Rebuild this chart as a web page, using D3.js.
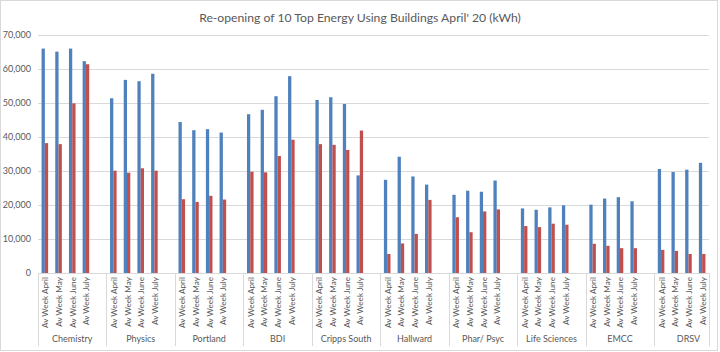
<!DOCTYPE html>
<html>
<head>
<meta charset="utf-8">
<script src="https://cdn.jsdelivr.net/npm/d3@7"></script>
<style>
  body { margin: 0; background: #fff; }
  text { font-family: Lato, sans-serif; fill: #595959; }
</style>
</head>
<body>
<div id="root"></div>
<script>
const width = 720;
const height = 352;

// buildings and weeks
const buildings = ['Chemistry', 'Physics', 'Portland', 'BDI', 'Cripps South',
    'Hallward', 'Phar/ Psyc', 'Life Sciences', 'EMCC', 'DRSV'];
const weeks = ['Av Week April', 'Av Week May', 'Av Week June', 'Av Week July'];

// blue series, one row per building (April..July)
const blueValues = [
    [66000, 65100, 66000, 62300],
    [51400, 56800, 56400, 58600],
    [44400, 42000, 42300, 41300],
    [46700, 48000, 52000, 57900],
    [50900, 51700, 49700, 28700],
    [27400, 34200, 28400, 26000],
    [23000, 24200, 23900, 27200],
    [19000, 18600, 19300, 19900],
    [20100, 21900, 22300, 21100],
    [30600, 29700, 30400, 32400]
];
// red series
const redValues = [
    [38200, 37900, 49900, 61400],
    [30100, 29500, 30800, 30100],
    [21700, 20900, 22700, 21600],
    [29800, 29600, 34400, 39200],
    [37900, 37700, 36200, 41900],
    [5600, 8700, 11500, 21500],
    [16400, 12000, 18100, 18700],
    [13800, 13500, 14500, 14200],
    [8600, 8000, 7300, 7300],
    [6800, 6500, 5600, 5600]
];
const yTicks = [0, 10000, 20000, 30000, 40000, 50000, 60000, 70000];

const colors = ['#4f81bd', '#c0504d'];

// one slot per week, plus an empty slot after each building but the last
const slots = [];
buildings.forEach((b, bi) => {
    weeks.forEach((w, wi) => slots.push({key: b + '|' + w, building: b, week: w,
        values: [blueValues[bi][wi], redValues[bi][wi]]}));
    if (bi < buildings.length - 1) slots.push({key: b + '|blank', building: b, blank: true});
});

const margin = {top: 35, right: 11, bottom: 79, left: 38};

const svg = d3.select('#root')
    .append('svg')
    .attr('width', width)
    .attr('height', height);

// outer border
svg.append('rect')
    .attr('x', 0.5).attr('y', 0.5)
    .attr('width', width - 3).attr('height', height - 2)
    .attr('fill', 'none')
    .attr('stroke', '#d9d9d9');

const x = d3.scaleBand()
    .domain(slots.map(d => d.key))
    .range([margin.left, width - margin.right]);

const y = d3.scaleLinear()
    .domain([0, 70000])
    .range([height - margin.bottom, margin.top]);

const inner = d3.scaleBand()
    .domain([0, 1])
    .range([0, x.bandwidth() * 0.48]);

// gridlines
svg.append('g')
    .selectAll('line')
    .data(yTicks)
    .join('line')
    .attr('x1', margin.left)
    .attr('x2', width - margin.right)
    .attr('y1', d => Math.round(y(d)) + 0.5)
    .attr('y2', d => Math.round(y(d)) + 0.5)
    .attr('stroke', '#d9d9d9');

// y labels
svg.append('g')
    .selectAll('text')
    .data(yTicks)
    .join('text')
    .attr('x', margin.left - 7)
    .attr('y', d => y(d))
    .attr('dy', '0.35em')
    .attr('text-anchor', 'end')
    .style('font-size', '9px')
    .text(d => d3.format(',')(d));

// bars
const slot = svg.append('g')
    .selectAll('g')
    .data(slots.filter(d => !d.blank))
    .join('g')
    .attr('transform', d => `translate(${x(d.key) + x.bandwidth() * 0.26},0)`);

slot.selectAll('rect')
    .data(d => d.values)
    .join('rect')
    .attr('x', (d, i) => inner(i))
    .attr('width', inner.bandwidth())
    .attr('y', d => y(d))
    .attr('height', d => y(0) - y(d))
    .attr('fill', (d, i) => colors[i]);

// baseline
svg.append('line')
    .attr('x1', margin.left).attr('x2', width - margin.right)
    .attr('y1', Math.round(y(0)) + 0.5).attr('y2', Math.round(y(0)) + 0.5)
    .attr('stroke', '#d9d9d9');

// group separators
const groupStarts = buildings.map(b => x(b + '|' + weeks[0]));
const seps = groupStarts.concat([width - margin.right]);
svg.append('g')
    .selectAll('line')
    .data(seps)
    .join('line')
    .attr('x1', d => Math.round(d) + 0.5)
    .attr('x2', d => Math.round(d) + 0.5)
    .attr('y1', y(0))
    .attr('y2', height - 6)
    .attr('stroke', '#d9d9d9');

// week labels
svg.append('g')
    .selectAll('text')
    .data(slots.filter(d => !d.blank))
    .join('text')
    .attr('transform', d => `translate(${x(d.key) + x.bandwidth() / 2 + 3.5},${y(0) + 4}) rotate(-90)`)
    .attr('text-anchor', 'end')
    .style('font-size', '8.2px')
    .text(d => d.week);

// building labels
svg.append('g')
    .selectAll('text')
    .data(buildings)
    .join('text')
    .attr('x', (d, i) => (seps[i] + (i < buildings.length - 1 ? seps[i + 1] : seps[i] + 68.6)) / 2)
    .attr('y', height - 10)
    .attr('text-anchor', 'middle')
    .style('font-size', '9px')
    .text(d => d);

// title
svg.append('text')
    .attr('x', width / 2)
    .attr('y', 22)
    .attr('text-anchor', 'middle')
    .style('font-size', '12.2px')
    .text("Re-opening of 10 Top Energy Using Buildings April' 20 (kWh)");
</script>
</body>
</html>
